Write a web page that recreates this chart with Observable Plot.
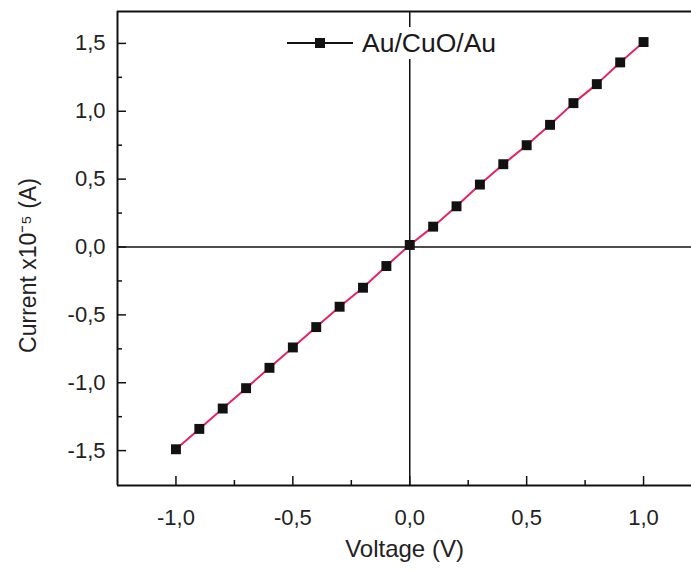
<!DOCTYPE html>
<html>
<head>
<meta charset="utf-8">
<script src="https://cdn.jsdelivr.net/npm/d3@7"></script>
<script src="https://cdn.jsdelivr.net/npm/@observablehq/plot@0.6"></script>
<style>
  html, body { margin: 0; padding: 0; background: #fff; }
  #wrap { position: relative; width: 691px; height: 572px; overflow: hidden; font-family: "Liberation Sans", Arial, sans-serif; }
  #legend { position: absolute; left: 283px; top: 27px; background: #fff; display: flex; align-items: center; padding: 0 4px; height: 32px; }
  #legend span { font-size: 26.5px; color: #1a1a1a; margin-left: 9px; line-height: 32px; }
</style>
</head>
<body>
<div id="wrap"></div>
<script>
const seriesName = "Au/CuO/Au";
const voltage = [-1.0,-0.9,-0.8,-0.7,-0.6,-0.5,-0.4,-0.3,-0.2,-0.1,0.0,0.1,0.2,0.3,0.4,0.5,0.6,0.7,0.8,0.9,1.0];
const current = [-1.49,-1.34,-1.19,-1.04,-0.89,-0.74,-0.59,-0.44,-0.30,-0.14,0.015,0.15,0.30,0.46,0.61,0.75,0.90,1.06,1.20,1.36,1.51];
const xMajor = [-1.0,-0.5,0.0,0.5,1.0];
const xMinor = [-0.75,-0.25,0.25,0.75];
const yMajor = [-1.5,-1.0,-0.5,0.0,0.5,1.0,1.5];
const yMinor = [-1.25,-0.75,-0.25,0.25,0.75,1.25];
const xLabel = "Voltage (V)";
const yLabel = "Current x10\u207B\u2075 (A)";
const xDomain = [-1.25, 1.205];
const yDomain = [-1.757, 1.735];

const data = voltage.map((v, i) => ({v, c: current[i]}));
const fmt = d => d.toFixed(1).replace(".", ",");

const W = 691, H = 572, mL = 117, mT = 11, mB = 87, mR = 0;
const pw = W - mL - mR, ph = H - mT - mB;
const font = "Liberation Sans, Arial, sans-serif";

const chart = Plot.plot({
  width: W, height: H,
  marginLeft: mL, marginTop: mT, marginBottom: mB, marginRight: mR,
  style: {fontFamily: font, background: "#fff", color: "#111"},
  x: {domain: xDomain},
  y: {domain: yDomain},
  marks: [
    Plot.ruleY([0], {stroke: "#111", strokeWidth: 1.5}),
    Plot.ruleX([0], {stroke: "#111", strokeWidth: 1.5}),
    Plot.line(data, {x: "v", y: "c", stroke: "#e8245c", strokeWidth: 2}),
    Plot.dot(data, {x: "v", y: "c", symbol: "square", r: 5.6, fill: "#111", stroke: "none"}),
    Plot.tickX(xMajor, {x: d => d, insetTop: ph - 9, stroke: "#111", strokeWidth: 1.5}),
    Plot.tickX(xMinor, {x: d => d, insetTop: ph - 5, stroke: "#111", strokeWidth: 1.5}),
    Plot.tickY(yMajor, {y: d => d, insetRight: pw - 9, stroke: "#111", strokeWidth: 1.5}),
    Plot.tickY(yMinor, {y: d => d, insetRight: pw - 5, stroke: "#111", strokeWidth: 1.5}),
    Plot.ruleY([yDomain[1]], {stroke: "#111", strokeWidth: 2}),
    Plot.ruleY([yDomain[0]], {stroke: "#111", strokeWidth: 2}),
    Plot.ruleX([xDomain[0]], {stroke: "#111", strokeWidth: 2}),
    Plot.axisX(xMajor, {tickSize: 0, tickPadding: 24, tickFormat: fmt, fontSize: 22, fill: "#222", label: null}),
    Plot.axisY(yMajor, {tickSize: 0, tickPadding: 12, tickFormat: fmt, fontSize: 22, fill: "#222", label: null}),
    Plot.text([xLabel], {frameAnchor: "bottom", dy: 71, fontSize: 24, fill: "#222"}),
    Plot.text([yLabel], {frameAnchor: "left", textAnchor: "middle", dx: -89, dy: 17, rotate: -90, fontSize: 23, fill: "#222"})
  ]
});

const wrap = document.getElementById("wrap");
wrap.appendChild(chart);

const legend = document.createElement("div");
legend.id = "legend";
legend.innerHTML = `<svg width="66" height="20"><line x1="0" y1="10" x2="66" y2="10" stroke="#111" stroke-width="2"/><rect x="28" y="5" width="10" height="10" fill="#111"/></svg><span>${seriesName}</span>`;
wrap.appendChild(legend);
</script>
</body>
</html>
